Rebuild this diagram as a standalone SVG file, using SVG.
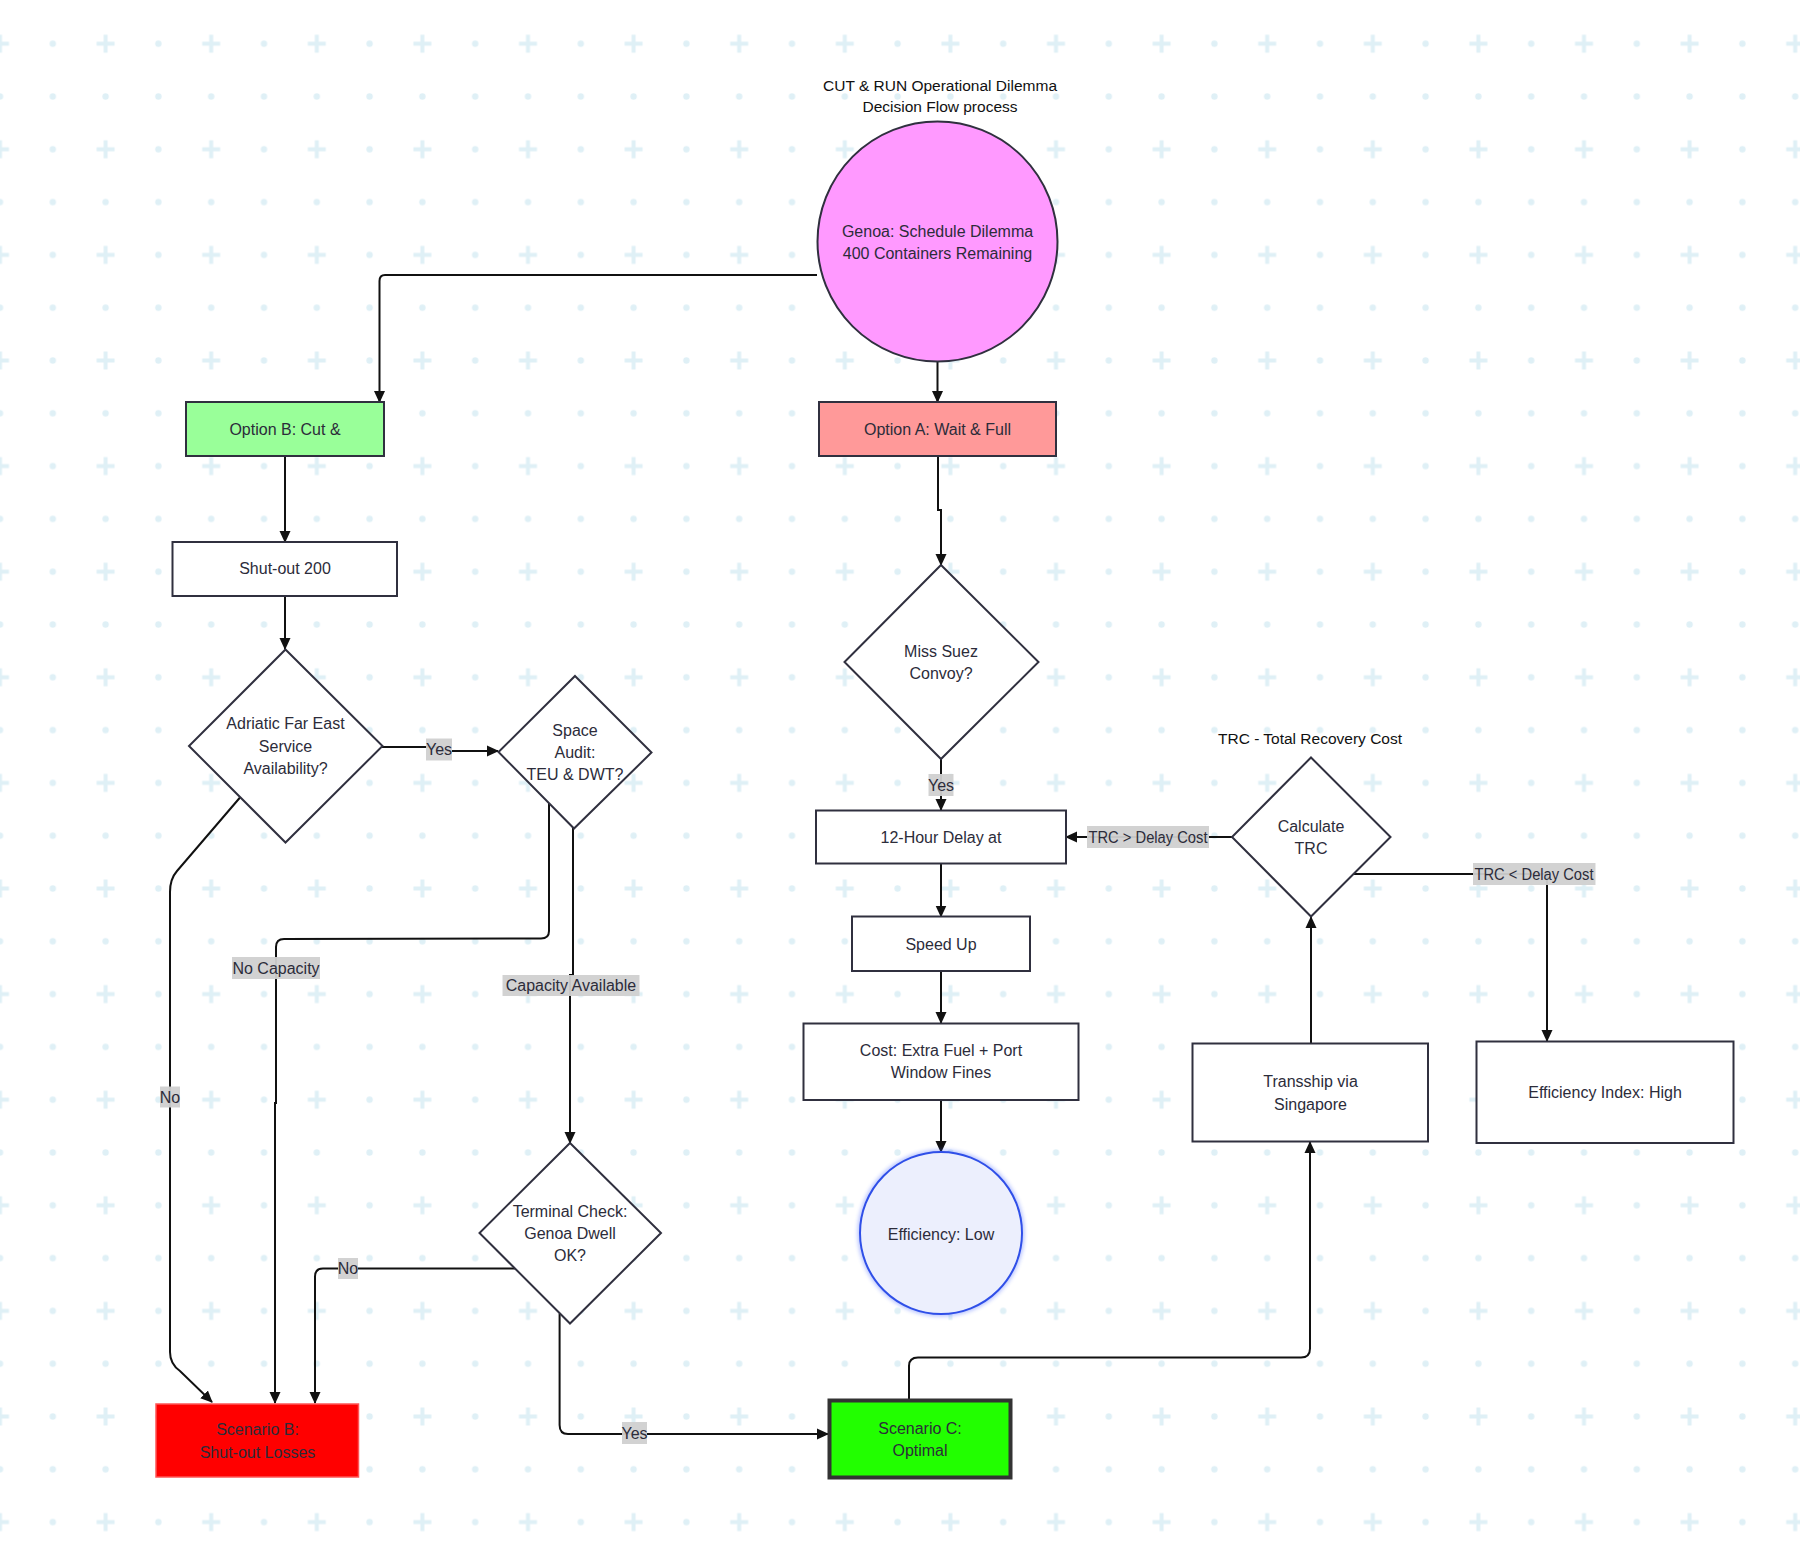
<svg xmlns="http://www.w3.org/2000/svg" width="1800" height="1556" viewBox="0 0 1800 1556">
<style>
text{font-family:"Liberation Sans",Arial,sans-serif;font-size:16px;fill:#2c2c3a;text-anchor:middle;dominant-baseline:central}
.title{font-size:15.5px;fill:#111}
.node{stroke:#30303f;stroke-width:2}
.edge{fill:none;stroke:#111;stroke-width:2;marker-end:url(#arr)}
.lbl{fill:#d0d0d0;opacity:0.95}
</style>
<defs>
<pattern id="grid" x="-26.4" y="17.3" width="105.6" height="105.6" patternUnits="userSpaceOnUse">
<path d="M17.4 26.4H35.4M26.4 17.4V35.4" stroke="#dff0f6" stroke-width="4"/>
<circle cx="79.2" cy="26.4" r="3.2" fill="#dff0f6"/>
<circle cx="26.4" cy="79.2" r="3.2" fill="#dff0f6"/>
<circle cx="79.2" cy="79.2" r="3.2" fill="#dff0f6"/>
</pattern>
<marker id="arr" viewBox="0 0 12 12" refX="11" refY="6" markerWidth="12" markerHeight="12" markerUnits="userSpaceOnUse" orient="auto">
<path d="M0,0.5 L12,6 L0,11.5 z" fill="#111"/>
</marker>
<filter id="glow" x="-20%" y="-20%" width="140%" height="140%">
<feGaussianBlur stdDeviation="2"/>
</filter>
</defs>
<rect width="1800" height="1556" fill="#ffffff"/>
<rect width="1800" height="1556" fill="url(#grid)"/>

<g id="title">
<text class="title" x="940" y="85">CUT &amp; RUN Operational Dilemma</text>
<text class="title" x="940" y="106.5">Decision Flow process</text>
<text class="title" x="1310" y="738.5">TRC - Total Recovery Cost</text>
</g>

<g id="connectors">
<path class="edge" d="M817 275 H385 Q379.5 275 379.5 281 V402"/>
<path class="edge" d="M937.5 362 V402"/>
<path class="edge" d="M285 456 V542"/>
<path class="edge" d="M285 596 V649"/>
<path class="edge" d="M382 747 H438 V751 H498"/>
<path class="edge" d="M240 797.5 L177 871 Q170 879 170 892 V1352 Q170 1364 180 1371 L212 1402"/>
<path class="edge" d="M549 802.5 V931 Q549 938.5 541 938.5 L284 939 Q276 939 276 947 V1103 H275 V1403"/>
<path class="edge" d="M573 828 V975 H570 V1143"/>
<path class="edge" d="M515 1268.6 H323 Q315 1268.6 315 1276.6 V1403"/>
<path class="edge" d="M559.6 1313.5 V1425 Q559.6 1434 568 1434 H828"/>
<path class="edge" d="M938 456 V510 H941 V565"/>
<path class="edge" d="M941 759 V810"/>
<path class="edge" d="M941 863 V916.5"/>
<path class="edge" d="M941 971 V1023"/>
<path class="edge" d="M941 1100 V1152"/>
<path class="edge" d="M1232 837 H1066"/>
<path class="edge" d="M1354 874 H1547 V1041"/>
<path class="edge" d="M909 1399 V1366 Q909 1357.5 918 1357.5 H1301 Q1310 1357.5 1310 1348.5 V1142"/>
<path class="edge" d="M1311 1043 V917"/>
</g>

<g id="edge-labels">
<rect class="lbl" x="426" y="738.5" width="26" height="22"/><text x="439" y="749.5">Yes</text>
<rect class="lbl" x="160" y="1086.5" width="20" height="21"/><text x="170" y="1097">No</text>
<rect class="lbl" x="232" y="957" width="88" height="22"/><text x="276" y="968">No Capacity</text>
<rect class="lbl" x="502.5" y="975" width="137" height="21"/><text x="571" y="985.5">Capacity Available</text>
<rect class="lbl" x="338" y="1258" width="20" height="21"/><text x="348" y="1268.6">No</text>
<rect class="lbl" x="622" y="1422" width="25" height="22"/><text x="634.5" y="1433">Yes</text>
<rect class="lbl" x="928.5" y="774" width="25" height="22"/><text x="941" y="785">Yes</text>
<rect class="lbl" x="1087" y="826" width="122" height="22"/><text x="1148" y="837" textLength="119" lengthAdjust="spacingAndGlyphs">TRC &gt; Delay Cost</text>
<rect class="lbl" x="1473" y="863" width="122.5" height="22"/><text x="1534" y="874" textLength="119" lengthAdjust="spacingAndGlyphs">TRC &lt; Delay Cost</text>
</g>

<g id="genoa">
<circle class="node" cx="937.5" cy="241.5" r="120" fill="#ff99ff"/>
<text x="937.5" y="231.5">Genoa: Schedule Dilemma</text>
<text x="937.5" y="253.5">400 Containers Remaining</text>
</g>
<g id="optionB">
<rect class="node" x="186" y="402" width="198" height="54" fill="#99ff99"/>
<text x="285" y="429">Option B: Cut &amp;</text>
</g>
<g id="optionA">
<rect class="node" x="819" y="402" width="237" height="54" fill="#ff9999"/>
<text x="937.5" y="429">Option A: Wait &amp; Full</text>
</g>
<g id="shutout">
<rect class="node" x="172.5" y="542" width="224.5" height="54" fill="#ffffff"/>
<text x="285" y="568.5">Shut-out 200</text>
</g>
<g id="adriatic">
<polygon class="node" points="285.5,649.5 382.5,746 285.5,842.5 189,746" fill="#ffffff"/>
<text x="285.5" y="723.5">Adriatic Far East</text>
<text x="285.5" y="746">Service</text>
<text x="285.5" y="768.5">Availability?</text>
</g>
<g id="spaceaudit">
<polygon class="node" points="575,676 651.5,752.5 574,828.5 498.5,752" fill="#ffffff"/>
<text x="575" y="730.5">Space</text>
<text x="575" y="752.5">Audit:</text>
<text x="575" y="774.5">TEU &amp; DWT?</text>
</g>
<g id="terminal">
<polygon class="node" points="570,1143 661,1233 570,1323.5 479.5,1233" fill="#ffffff"/>
<text x="570" y="1211">Terminal Check:</text>
<text x="570" y="1233">Genoa Dwell</text>
<text x="570" y="1255">OK?</text>
</g>
<g id="scenarioB">
<rect x="156" y="1404" width="202.5" height="73" fill="#ff0000" stroke="#ff5555" stroke-width="1.5"/>
<text x="257.5" y="1429.5">Scenario B:</text>
<text x="257.5" y="1452.5">Shut-out Losses</text>
</g>
<g id="misssuez">
<polygon class="node" points="941,565 1038.5,662 941,759 844.5,662" fill="#ffffff"/>
<text x="941" y="651">Miss Suez</text>
<text x="941" y="673.5">Convoy?</text>
</g>
<g id="delay">
<rect class="node" x="816" y="810.5" width="250" height="53" fill="#ffffff"/>
<text x="941" y="837">12-Hour Delay at</text>
</g>
<g id="speedup">
<rect class="node" x="852" y="916.5" width="178" height="54.5" fill="#ffffff"/>
<text x="941" y="944.5">Speed Up</text>
</g>
<g id="cost">
<rect class="node" x="803.5" y="1023.5" width="275" height="76.5" fill="#ffffff"/>
<text x="941" y="1050.5">Cost: Extra Fuel + Port</text>
<text x="941" y="1072.5">Window Fines</text>
</g>
<g id="efflow">
<circle cx="941" cy="1233" r="81" fill="none" stroke="#3a5cff" stroke-width="4" opacity="0.45" filter="url(#glow)"/>
<circle cx="941" cy="1233" r="81" fill="#eceffd" stroke="#2f4fe8" stroke-width="2"/>
<text x="941" y="1234">Efficiency: Low</text>
</g>
<g id="calctrc">
<polygon class="node" points="1311,757.5 1390.5,837 1311,916.5 1232,837" fill="#ffffff"/>
<text x="1311" y="826.5">Calculate</text>
<text x="1311" y="848.5">TRC</text>
</g>
<g id="transship">
<rect class="node" x="1192.5" y="1043.5" width="235.5" height="98" fill="#ffffff"/>
<text x="1310.5" y="1081.5">Transship via</text>
<text x="1310.5" y="1104">Singapore</text>
</g>
<g id="effhigh">
<rect class="node" x="1476.5" y="1041.5" width="257" height="101.5" fill="#ffffff"/>
<text x="1605" y="1092.5">Efficiency Index: High</text>
</g>
<g id="scenarioC">
<rect x="829.5" y="1400.5" width="181" height="77" fill="#22ff00" stroke="#333333" stroke-width="4"/>
<text x="920" y="1428.5">Scenario C:</text>
<text x="920" y="1450">Optimal</text>
</g>
</svg>
